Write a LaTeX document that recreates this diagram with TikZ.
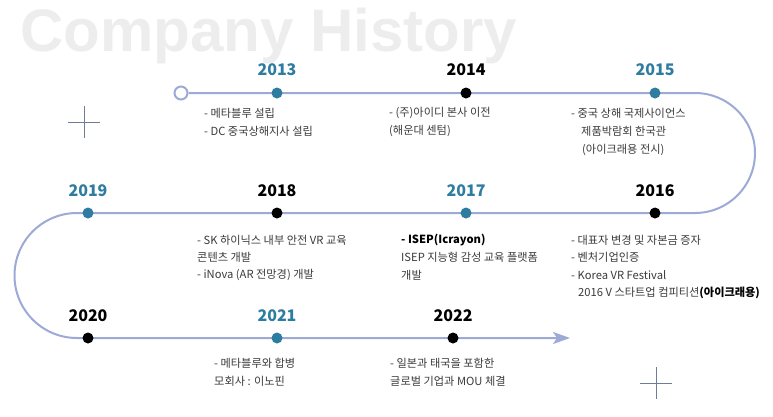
\documentclass[tikz,border=0pt]{standalone}
\usepackage{fontspec}
\setmainfont{Noto Sans CJK KR}
\newfontfamily\titlefont{Liberation Sans}
\usetikzlibrary{arrows.meta}
\definecolor{teal}{HTML}{2E7CA0}
\definecolor{tline}{HTML}{9DAAD6}
\definecolor{desc}{HTML}{3A3A3A}
\definecolor{crossc}{HTML}{6F7C96}
\definecolor{ttl}{HTML}{EDEDED}
\tikzset{
  dotb/.style={circle,fill=black,inner sep=0pt,minimum size=11pt},
  dott/.style={circle,fill=teal,inner sep=0pt,minimum size=11pt},
  yearb/.style={font=\bfseries\fontsize{16}{18}\selectfont,text=black,inner sep=0pt},
  yeart/.style={font=\bfseries\fontsize{16}{18}\selectfont,text=teal,inner sep=0pt},
  dline/.style={font=\fontsize{11.2}{12}\selectfont,text=desc,anchor=west,inner sep=0pt},
  tlpath/.style={draw=tline,line width=2pt},
  crossl/.style={draw=crossc,line width=0.9pt}
}
\begin{document}
\begin{tikzpicture}[x=1pt,y=-1pt]
\useasboundingbox (0,0) rectangle (773,416);
% title
\node[anchor=base west,inner sep=0pt,text=ttl,font=\titlefont\bfseries\fontsize{60}{60}\selectfont] (title) at (20,51) {Company History};
% crosses
\draw[crossl] (68,122) -- (100,122) (84,106) -- (84,138);
\draw[crossl] (640,383) -- (672,383) (656,367) -- (656,399);
% path coordinates
\coordinate (c1) at (695,93);
\coordinate (c2) at (77,213);
\coordinate (tip) at (570,338);
\node[circle,draw=tline,line width=2pt,fill=white,inner sep=0pt,minimum size=13pt] (start) at (181,93) {};
\draw[tlpath,-{Stealth[length=17pt,width=12pt,inset=4pt]}] (start.east) -- (c1) arc[start angle=-90,end angle=90,radius=60] -- (c2) arc[start angle=270,end angle=90,radius=62.5] -- (tip);
% dots
\node[dott] (d13) at (277,93) {};
\node[dotb] (d14) at (466,93) {};
\node[dott] (d15) at (655,93) {};
\node[dott] (d19) at (88,213) {};
\node[dotb] (d18) at (277,213) {};
\node[dott] (d17) at (466,213) {};
\node[dotb] (d16) at (655,213) {};
\node[dotb] (d20) at (88,338) {};
\node[dott] (d21) at (277,338) {};
\node[dotb] (d22) at (453,338) {};
% years
\node[yeart] (y13) at (277,70) {2013};
\node[yearb] (y14) at (466,70) {2014};
\node[yeart] (y15) at (655,70) {2015};
\node[yeart] (y19) at (88,191) {2019};
\node[yearb] (y18) at (277,191) {2018};
\node[yeart] (y17) at (466,191) {2017};
\node[yearb] (y16) at (655,191) {2016};
\node[yearb] (y20) at (88,316) {2020};
\node[yeart] (y21) at (277,316) {2021};
\node[yearb] (y22) at (453,316) {2022};
% descriptions
\node[dline] (t13a) at (204,113) {- 메타블루 설립};
\node[dline] (t13b) at (204,131) {- DC 중국상해지사 설립};
\node[dline] (t14a) at (389,113) {- (주)아이디 본사 이전};
\node[dline] (t14b) at (389,131) {(해운대 센텀)};
\node[dline] (t15a) at (571,113) {- 중국 상해 국제사이언스};
\node[dline] (t15b) at (581,131) {제품박람회 한국관};
\node[dline] (t15c) at (582,150) {(아이크래용 전시)};
\node[dline] (t18a) at (197,240) {- SK 하이닉스 내부 안전 VR 교육};
\node[dline] (t18b) at (197,257) {콘텐츠 개발};
\node[dline] (t18c) at (197,275) {- iNova (AR 전망경) 개발};
\node[dline,text=black] (t17a) at (401,240) {\bfseries - ISEP(Icrayon)};
\node[dline] (t17b) at (401,257) {ISEP 지능형 감성 교육 플랫폼};
\node[dline] (t17c) at (401,275) {개발};
\node[dline] (t16a) at (571,240) {- 대표자 변경 및 자본금 증자};
\node[dline] (t16b) at (571,257) {- 벤처기업인증};
\node[dline] (t16c) at (571,275) {- Korea VR Festival};
\node[dline] (t16d) at (578,293) {2016 V 스타트업 컴피티션{\bfseries\color{black}(아이크래용)}};
\node[dline] (t21a) at (214,363) {- 메타블루와 합병};
\node[dline] (t21b) at (214,381) {모회사 : 이노핀};
\node[dline] (t22a) at (390,363) {- 일본과 태국을 포함한};
\node[dline] (t22b) at (390,381) {글로벌 기업과 MOU 체결};
\end{tikzpicture}
\end{document}
